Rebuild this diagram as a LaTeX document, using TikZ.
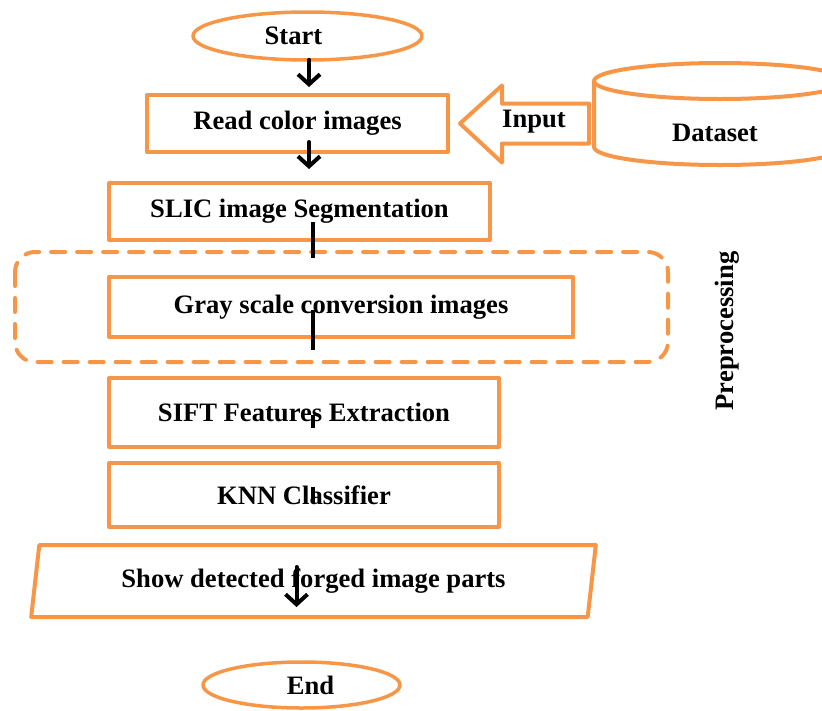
\documentclass[tikz,border=0pt]{standalone}
\usepackage{fontspec}
\setmainfont{Liberation Serif}
\usetikzlibrary{shapes.geometric,arrows.meta,calc}
\definecolor{boxorange}{HTML}{F79646}
\tikzset{
	box/.style={draw=boxorange, line width=4pt, rectangle, inner sep=0pt},
	term/.style={draw=boxorange, line width=3.5pt, ellipse, inner sep=0pt},
	arr/.style={line width=4pt, -{Straight Barb[length=10pt,width=22pt,line width=4pt]}},
	stub/.style={line width=4pt, line cap=butt},
}
\begin{document}
\begin{tikzpicture}[x=1pt, y=-1pt, font=\fontsize{26.6}{32}\selectfont\bfseries, line join=round, line cap=round]
	\useasboundingbox (0,0) rectangle (822,710);
	
	% cac khoi chinh
	\node[term, minimum width=229, minimum height=48] (start) at (307.5,36) {Start\kern28pt};
	\node[box, minimum width=301, minimum height=57] (read) at (297.5,123.5) {Read color images};
	\node[box, minimum width=381, minimum height=57] (slic) at (299.5,211.5) {SLIC image Segmentation};
	\node[box, minimum width=464, minimum height=60] (gray) at (341,307) {Gray scale conversion images};
	\node[box, minimum width=390, minimum height=69] (sift) at (304,412.5) {SIFT Features Extraction};
	\node[box, minimum width=390, minimum height=64] (knn) at (304,495) {KNN Classifier};
	\node[box, trapezium, trapezium left angle=77, trapezium right angle=103, trapezium stretches=true,
		minimum width=567, minimum height=72] (show) at (313.5,581) {Show detected forged image parts};
	\node[term, minimum width=197, minimum height=46] (end) at (301.5,685) {\kern18pt End};
	
	% tien xu ly
	\draw[boxorange, line width=4pt, dash pattern=on 14pt off 12pt, rounded corners=20pt] (15,252) rectangle (668,362);
	\node[rotate=90] (prep) at (727,331) {Preprocessing};
	
	% du lieu
	\draw[boxorange, line width=4pt] (594,81) -- (594,147) arc[start angle=180, end angle=360, x radius=126pt, y radius=18pt] -- (846,81);
	\draw[boxorange, line width=4pt] (720,81) ellipse [x radius=126pt, y radius=18pt];
	\node (dataset) at (715,133) {Dataset};
	\coordinate (tip) at ($(read.east)+(10,0)$);
	\draw[boxorange, line width=4pt] (tip) -- ++(42,-38) -- ++(0,18) -- ++(87,0) -- ++(0,40) -- ++(-87,0) -- ++(0,19) -- cycle;
	\node (input) at (534,122) {Input};
	
	% mui ten
	\draw[arr] ($(start.south)+(1.5,-2)$) -- ($(read.north)+(11.5,-6)$);
	\draw[arr] ($(read.south)+(11.5,-12)$) -- ($(slic.north)+(9.5,-12)$);
	\draw[stub] ($(slic.center)+(13.5,10.5)$) -- ($(slic.center)+(13.5,46.5)$);
	\draw[stub] ($(gray.center)+(-28,3)$) -- ($(gray.center)+(-28,43)$);
	\draw[stub] ($(sift.center)+(9,2.5)$) -- ($(sift.center)+(9,15.5)$);
	\draw[stub] ($(knn.center)+(9,-8)$) -- ($(knn.center)+(9,8)$);
	\draw[arr] ($(show.center)+(-17,-14)$) -- ($(show.center)+(-17,26)$);
\end{tikzpicture}
\end{document}
